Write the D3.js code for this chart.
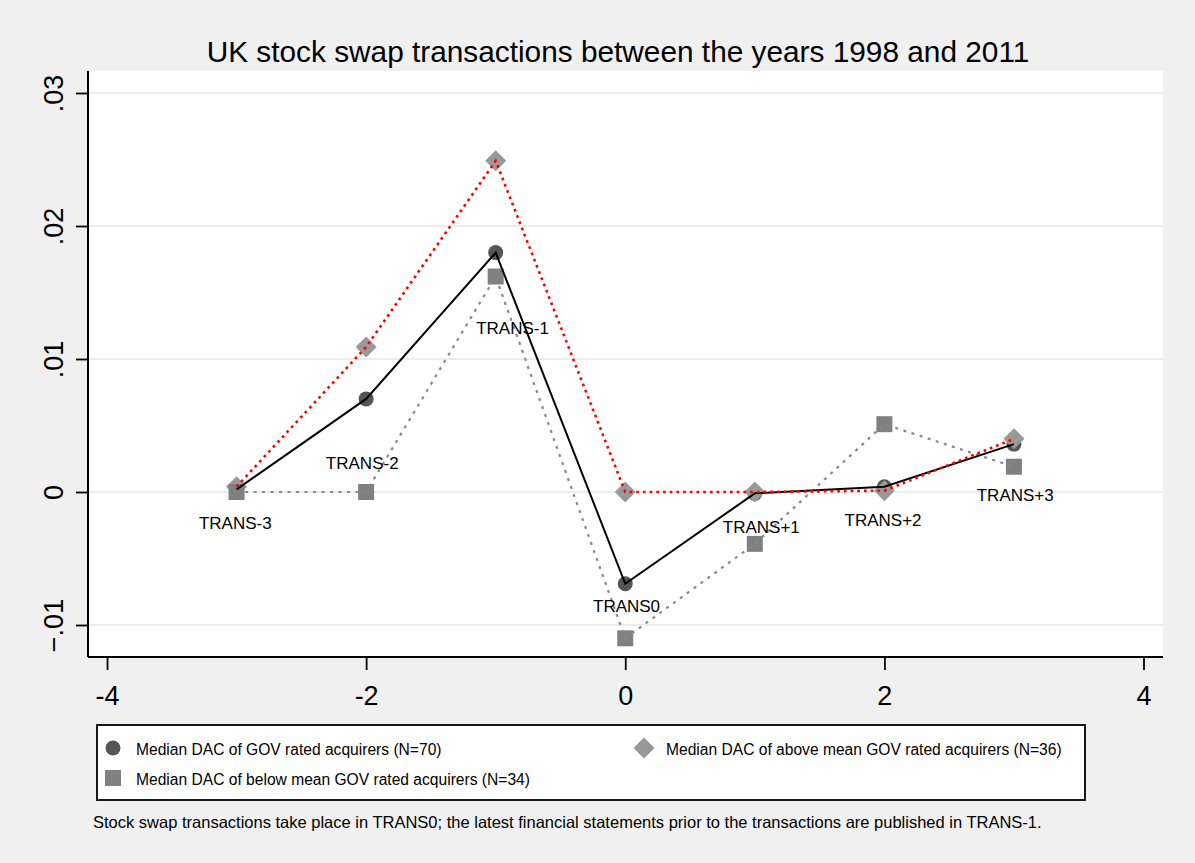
<!DOCTYPE html>
<meta charset="utf-8">
<style>
  body { margin: 0; background: #f0f0f0; }
  text { font-family: "Liberation Sans", Arial, sans-serif; }
</style>
<body>
<script src="https://cdn.jsdelivr.net/npm/d3@7"></script>
<script>

var width = 1195,
    height = 863;

// event time relative to the transaction year
var periods = [-3, -2, -1, 0, 1, 2, 3];
var periodLabels = ["TRANS-3", "TRANS-2", "TRANS-1", "TRANS0", "TRANS+1", "TRANS+2", "TRANS+3"];
// where each period label sits (data units)
var labelX = [-3.01, -2.03, -0.87, 0.01, 1.05, 1.99, 3.01];
var labelY = [-0.0023, 0.0022, 0.0123, -0.0086, -0.0026, -0.0021, -0.0002];

var govAll   = [0.0002, 0.0070, 0.0180, -0.0069, -0.0001, 0.0004, 0.0036];
var govAbove = [0.0004, 0.0109, 0.0249, 0.0000, 0.0000, 0.0001, 0.0040];
var govBelow = [0.0000, 0.0000, 0.0162, -0.0110, -0.0039, 0.0051, 0.0019];

var xTicks = [-4, -2, 0, 2, 4];
var yTicks = [-0.01, 0, 0.01, 0.02, 0.03];

var title = "UK stock swap transactions between the years 1998 and 2011";
var note = "Stock swap transactions take place in TRANS0; the latest financial statements prior to the transactions are published in TRANS-1.";

var legendLabels = [
  "Median DAC of GOV rated acquirers (N=70)",
  "Median DAC of above mean GOV rated acquirers (N=36)",
  "Median DAC of below mean GOV rated acquirers (N=34)"
];

// plot region
var plot = {left: 88, right: 1163, top: 71, bottom: 657};

var x = d3.scaleLinear().domain([-4, 4]).range([107, 1143.5]);
var y = d3.scaleLinear().domain([-0.01, 0.03]).range([625, 93]);

var svg = d3.select("body").append("svg")
    .attr("width", width)
    .attr("height", height);

svg.append("rect")
    .attr("width", width).attr("height", height)
    .attr("fill", "#f0f0f0");

svg.append("rect")
    .attr("x", plot.left).attr("y", plot.top)
    .attr("width", plot.right - plot.left)
    .attr("height", plot.bottom - plot.top)
    .attr("fill", "#fff");

// grid
svg.append("g").selectAll("line")
    .data(yTicks)
  .enter().append("line")
    .attr("x1", plot.left).attr("x2", plot.right)
    .attr("y1", d => y(d)).attr("y2", d => y(d))
    .attr("stroke", "#e6e6e6")
    .attr("stroke-width", 1.6);

// axes
var fmtY = function(d) {
  if (d === 0) return "0";
  return d3.format(".2f")(d).replace("0.", ".");
};

var yAxis = svg.append("g")
    .attr("transform", "translate(" + plot.left + ",0)")
    .call(d3.axisLeft(y).tickValues(yTicks).tickSize(12).tickPadding(13).tickFormat(fmtY));
yAxis.select(".domain").attr("d", "M0," + plot.top + "V" + plot.bottom);
yAxis.selectAll("line").attr("stroke-width", 1.8);
yAxis.selectAll("text")
    .attr("transform", "rotate(-90)")
    .attr("x", 0)
    .attr("y", -25)
    .attr("dy", 0)
    .attr("text-anchor", "middle")
    .attr("font-size", 27)
    .attr("fill", "#000");

var xAxis = svg.append("g")
    .attr("transform", "translate(0," + plot.bottom + ")")
    .call(d3.axisBottom(x).tickValues(xTicks).tickSize(13).tickPadding(12).tickFormat(d3.format("d")));
xAxis.select(".domain").attr("d", "M" + plot.left + ",0H" + plot.right);
xAxis.selectAll("line").attr("stroke-width", 1.8);
xAxis.selectAll("text")
    .attr("y", 48)
    .attr("dy", 0)
    .attr("font-size", 27)
    .attr("fill", "#000")
    .text(d => d < 0 ? "-" + Math.abs(d) : d);

svg.selectAll(".domain").attr("stroke-width", 2).attr("stroke", "#000");

// markers
var marks = svg.append("g");
var pts = function(vals) { return periods.map((p, i) => [x(p), y(vals[i])]); };

marks.selectAll(".c").data(pts(govAll)).enter().append("circle")
    .attr("cx", d => d[0]).attr("cy", d => d[1]).attr("r", 7.5)
    .attr("fill", "#555");

var diamond = d3.symbol().type(d3.symbolSquare).size(220);
marks.selectAll(".d").data(pts(govAbove)).enter().append("path")
    .attr("d", diamond)
    .attr("transform", d => "translate(" + d[0] + "," + d[1] + ") rotate(45)")
    .attr("fill", "#999");

marks.selectAll(".s").data(pts(govBelow)).enter().append("rect")
    .attr("x", d => d[0] - 8).attr("y", d => d[1] - 8)
    .attr("width", 16).attr("height", 16)
    .attr("fill", "#808080");

// connecting lines
var line = d3.line();
svg.append("path").attr("d", line(pts(govBelow)))
    .attr("fill", "none").attr("stroke", "#888")
    .attr("stroke-width", 2.2).attr("stroke-dasharray", "3,5.5");
svg.append("path").attr("d", line(pts(govAll)))
    .attr("fill", "none").attr("stroke", "#000")
    .attr("stroke-width", 2);
svg.append("path").attr("d", line(pts(govAbove)))
    .attr("fill", "none").attr("stroke", "#f00")
    .attr("stroke-width", 2.6).attr("stroke-dasharray", "2.7,4");

// period labels
svg.append("g").selectAll("text")
    .data(periodLabels)
  .enter().append("text")
    .attr("x", (d, i) => x(labelX[i]))
    .attr("y", (d, i) => y(labelY[i]))
    .attr("dy", "0.35em")
    .attr("text-anchor", "middle")
    .attr("font-size", 17)
    .text(d => d);

// title
svg.append("text")
    .attr("x", 618).attr("y", 62)
    .attr("text-anchor", "middle")
    .attr("font-size", 29.8)
    .text(title);

// legend
var lg = svg.append("g");
lg.append("rect")
    .attr("x", 97).attr("y", 725).attr("width", 988).attr("height", 75)
    .attr("fill", "#fff").attr("stroke", "#000").attr("stroke-width", 1.8);

lg.append("circle").attr("cx", 113).attr("cy", 748).attr("r", 7.5).attr("fill", "#555");
lg.append("path").attr("d", diamond)
    .attr("transform", "translate(644,748) rotate(45)").attr("fill", "#999");
lg.append("rect").attr("x", 105).attr("y", 770).attr("width", 16).attr("height", 16).attr("fill", "#808080");

var legendPos = [[136, 755], [666, 755], [136, 785]];
lg.selectAll("text").data(legendLabels).enter().append("text")
    .attr("x", (d, i) => legendPos[i][0])
    .attr("y", (d, i) => legendPos[i][1])
    .attr("font-size", 15.6)
    .text(d => d);

svg.append("text")
    .attr("x", 93).attr("y", 828)
    .attr("font-size", 16.5)
    .text(note);

</script>
